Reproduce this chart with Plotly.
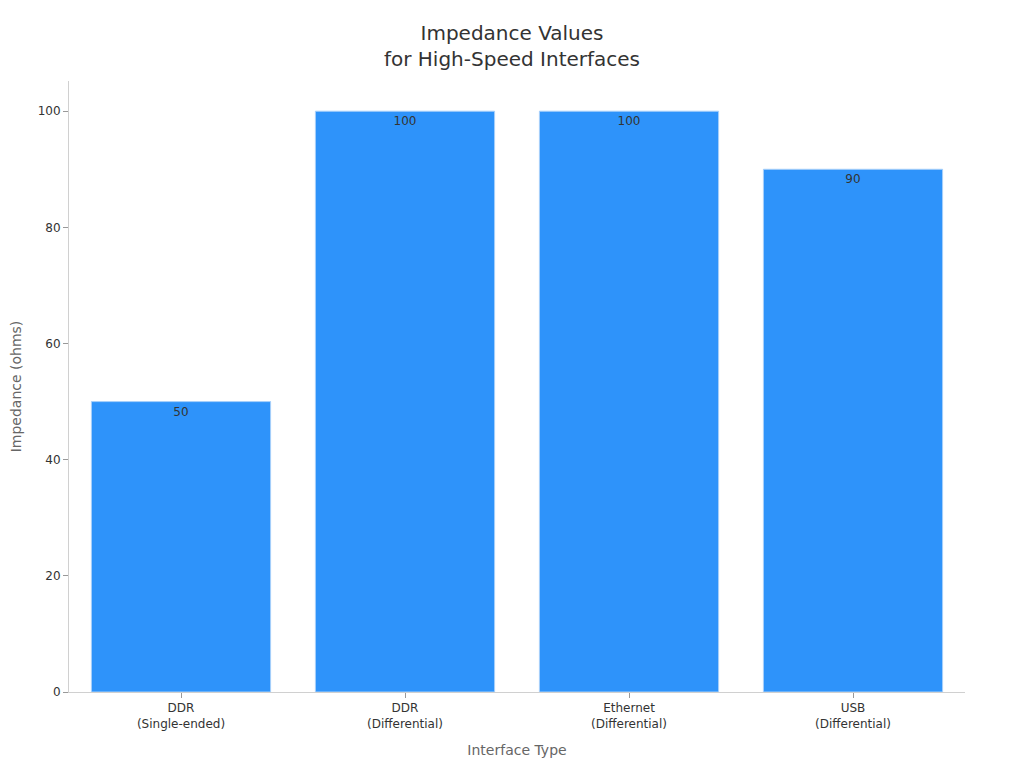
import plotly.graph_objects as go

categories = ["DDR<br>(Single-ended)", "DDR<br>(Differential)", "Ethernet<br>(Differential)", "USB<br>(Differential)"]
values = [50, 100, 100, 90]

fig = go.Figure(go.Bar(
    x=categories, y=values,
    text=[str(v) for v in values],
    textposition="inside", insidetextanchor="end",
    textfont=dict(color="#333333", size=12),
    marker=dict(color="#2E93FA", line=dict(color="#A8D0FA", width=1)),
))

fig.update_layout(
    width=1024, height=768,
    font=dict(family="DejaVu Sans", size=12, color="#333333"),
    title=dict(text="Impedance Values<br>for High-Speed Interfaces", x=0.4922, xanchor="center",
               y=0.958, yanchor="middle", font=dict(size=20, color="#333333")),
    margin=dict(l=61, r=67, t=73, b=84),
    plot_bgcolor="white", paper_bgcolor="white",
    bargap=0.2,
    showlegend=False,
    xaxis=dict(title=dict(text="Interface Type", font=dict(size=14, color="#666666"), standoff=15),
               automargin=False,
               showline=True, linecolor="#D0D0D0", ticks="outside", tickcolor="#999999", ticklen=5,
               showgrid=False, tickfont=dict(size=12)),
    yaxis=dict(title=dict(text="Impedance (ohms)", font=dict(size=14, color="#666666"), standoff=20),
               automargin=False,
               range=[0, 105.2], showline=True, linecolor="#D0D0D0", ticks="outside",
               tickcolor="#999999", ticklen=5, showgrid=False, zeroline=False,
               tickvals=[0, 20, 40, 60, 80, 100], tickfont=dict(size=12)),
)

fig.write_html("out.html")
